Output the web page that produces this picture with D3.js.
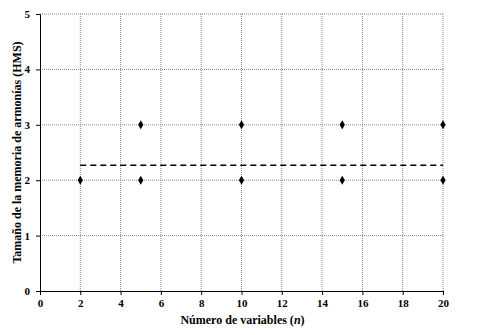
<!DOCTYPE html>
<html>
<head>
<meta charset="utf-8">
<script src="https://cdn.jsdelivr.net/npm/d3@7"></script>
<style>
body { margin: 0; background: #fff; }
svg text { font-family: "Liberation Serif", "Times New Roman", serif; font-weight: bold; }
</style>
</head>
<body>
<div id="chart"></div>
<script>
// datos
var nVars = [2, 5, 5, 10, 10, 15, 15, 20, 20];
var hmsVals = [2, 2, 3, 2, 3, 2, 3, 2, 3];
var meanLine = [[2, 2.27], [20, 2.27]];
var xTicks = [0, 2, 4, 6, 8, 10, 12, 14, 16, 18, 20];
var yTicks = [0, 1, 2, 3, 4, 5];

var width = 494, height = 335;
var margin = {left: 40, right: 51, top: 14, bottom: 44};

var svg = d3.select("#chart").append("svg")
	.attr("width", width)
	.attr("height", height);

var x = d3.scaleLinear().domain([0, 20]).range([margin.left, width - margin.right]);
var y = d3.scaleLinear().domain([0, 5]).range([height - margin.bottom, margin.top]);

// grid
svg.append("g").selectAll("line.vg").data(xTicks.slice(1)).enter()
	.append("line")
	.attr("x1", d => x(d)).attr("x2", d => x(d))
	.attr("y1", y(0)).attr("y2", y(5))
	.attr("stroke", "#888").attr("stroke-width", 1)
	.attr("stroke-dasharray", "1,1");
svg.append("g").selectAll("line.hg").data(yTicks.slice(1)).enter()
	.append("line")
	.attr("x1", x(0)).attr("x2", x(20))
	.attr("y1", d => y(d)).attr("y2", d => y(d))
	.attr("stroke", "#888").attr("stroke-width", 1)
	.attr("stroke-dasharray", "1,1");

// axes
var xAxis = svg.append("g")
	.attr("transform", "translate(0," + y(0) + ")")
	.call(d3.axisBottom(x).tickValues(xTicks).tickFormat(d3.format("d")).tickSize(4).tickPadding(4));
var yAxis = svg.append("g")
	.attr("transform", "translate(" + x(0) + ",0)")
	.call(d3.axisLeft(y).tickValues(yTicks).tickFormat(d3.format("d")).tickSize(4).tickPadding(6));
[xAxis, yAxis].forEach(a => {
	a.select(".domain").attr("stroke", "#000");
	a.selectAll(".tick line").attr("stroke", "#000");
	a.selectAll("text").style("font-size", "11px").attr("fill", "#000")
		.style("font-family", "Liberation Serif").style("font-weight", "bold");
});

// linea media
svg.append("path")
	.datum(meanLine)
	.attr("d", d3.line().x(d => x(d[0])).y(d => y(d[1])))
	.attr("stroke", "#000").attr("stroke-width", 1.6)
	.attr("stroke-dasharray", "6,4")
	.attr("fill", "none");

// puntos
svg.append("g").selectAll("path.pt").data(nVars).enter()
	.append("path")
	.attr("d", d3.symbol().type(d3.symbolDiamond).size(24))
	.attr("transform", (d, i) => "translate(" + x(d) + "," + y(hmsVals[i]) + ")")
	.attr("fill", "#000");

// titulos
var xt = svg.append("text")
	.attr("x", (x(0) + x(20)) / 2 + 1)
	.attr("y", 324)
	.attr("text-anchor", "middle")
	.style("font-size", "12px");
xt.append("tspan").text("Número de variables (");
xt.append("tspan").style("font-style", "italic").text("n");
xt.append("tspan").text(")");

svg.append("text")
	.attr("transform", "translate(21," + (y(2.5)) + ") rotate(-90)")
	.attr("text-anchor", "middle")
	.style("font-size", "12px")
	.text("Tamaño de la memoria de armonías (HMS)");
</script>
</body>
</html>
